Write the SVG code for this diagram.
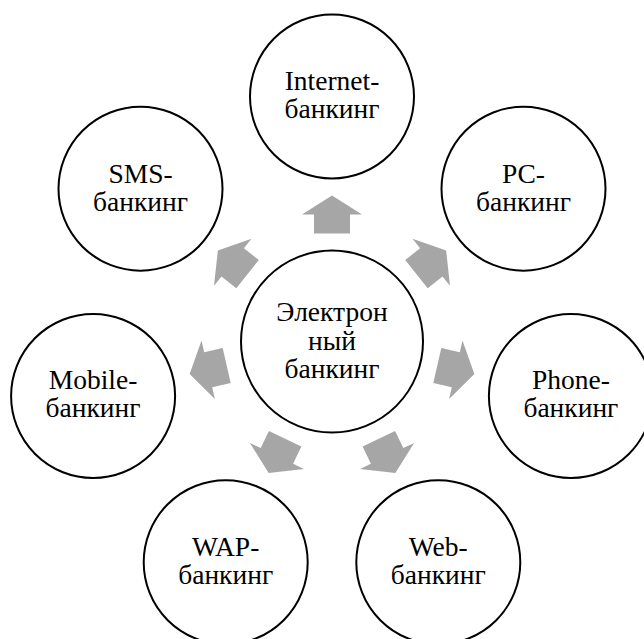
<svg xmlns="http://www.w3.org/2000/svg" xmlns:xlink="http://www.w3.org/1999/xlink" width="644" height="639" viewBox="0 0 644 639">
  <style>
    .node { fill: #ffffff; stroke: #000000; stroke-width: 2; }
    .lbl { font-family: "Liberation Serif", "Times New Roman", serif; font-size: 27.5px; fill: #000000; text-anchor: middle; }
    .arr { fill: #a6a6a6; stroke: none; }
  </style>
  <defs>
    <polygon id="arrow" class="arr" points="-18,-108 18,-108 18,-127 30,-127 0,-146 -30,-127 -18,-127"/>
  </defs>
  <rect width="644" height="639" fill="#ffffff"/>

  <g id="connectors">
    <use xlink:href="#arrow" href="#arrow" transform="translate(332,341.5) rotate(0)"/>
    <use xlink:href="#arrow" href="#arrow" transform="translate(332,341.5) rotate(51.4286)"/>
    <use xlink:href="#arrow" href="#arrow" transform="translate(332,341.5) rotate(102.857)"/>
    <use xlink:href="#arrow" href="#arrow" transform="translate(332,341.5) rotate(154.286)"/>
    <use xlink:href="#arrow" href="#arrow" transform="translate(332,341.5) rotate(205.714)"/>
    <use xlink:href="#arrow" href="#arrow" transform="translate(332,341.5) rotate(257.143)"/>
    <use xlink:href="#arrow" href="#arrow" transform="translate(332,341.5) rotate(308.571)"/>
  </g>

  <g id="center">
    <circle class="node" cx="332" cy="341.5" r="91"/>
    <text class="lbl" x="332" y="321">Электрон</text>
    <text class="lbl" x="332" y="349.5">ный</text>
    <text class="lbl" x="332" y="377.5">банкинг</text>
  </g>

  <g id="internet">
    <circle class="node" cx="332" cy="96.5" r="82"/>
    <text class="lbl" x="332" y="90">Internet-</text>
    <text class="lbl" x="332" y="118">банкинг</text>
  </g>

  <g id="pc">
    <circle class="node" cx="523.5" cy="188.7" r="82"/>
    <text class="lbl" x="523.5" y="182.5">PC-</text>
    <text class="lbl" x="523.5" y="210.5">банкинг</text>
  </g>

  <g id="phone">
    <circle class="node" cx="570.9" cy="396" r="82"/>
    <text class="lbl" x="570.9" y="389">Phone-</text>
    <text class="lbl" x="570.9" y="417">банкинг</text>
  </g>

  <g id="web">
    <circle class="node" cx="438.3" cy="562.2" r="82"/>
    <text class="lbl" x="438.3" y="555.5">Web-</text>
    <text class="lbl" x="438.3" y="583.5">банкинг</text>
  </g>

  <g id="wap">
    <circle class="node" cx="225.7" cy="562.2" r="82"/>
    <text class="lbl" x="225.7" y="555.5">WAP-</text>
    <text class="lbl" x="225.7" y="583.5">банкинг</text>
  </g>

  <g id="mobile">
    <circle class="node" cx="93.1" cy="396" r="82"/>
    <text class="lbl" x="93.1" y="389">Mobile-</text>
    <text class="lbl" x="93.1" y="417">банкинг</text>
  </g>

  <g id="sms">
    <circle class="node" cx="140.5" cy="188.7" r="82"/>
    <text class="lbl" x="140.5" y="182.5">SMS-</text>
    <text class="lbl" x="140.5" y="210.5">банкинг</text>
  </g>
</svg>
